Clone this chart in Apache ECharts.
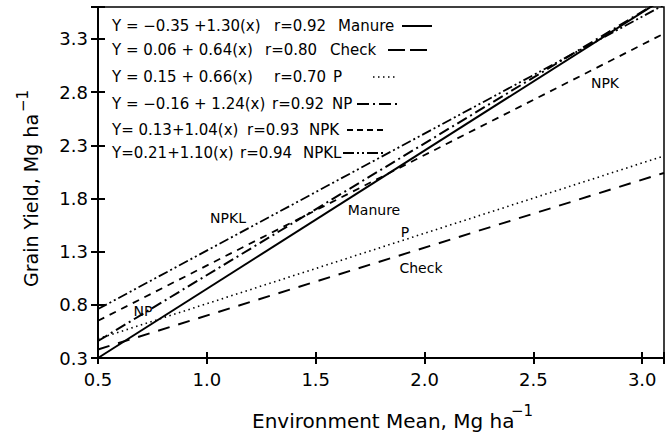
<!DOCTYPE html>
<html><head><meta charset="utf-8">
<script src="https://cdn.jsdelivr.net/npm/echarts@6/dist/echarts.min.js"></script>
<style>html,body{margin:0;padding:0;background:#fff}#c{width:672px;height:436px}</style>
</head><body><div id="c"></div>
<script>
// ---- data ----
const xTicks = [0.5, 1.0, 1.5, 2.0, 2.5, 3.0];
const yTicks = [0.3, 0.8, 1.3, 1.8, 2.3, 2.8, 3.3];
const xEnds = [0.5, 3.1];
const manureY = [0.30, 3.68];
const checkY  = [0.38, 2.04];
const pY      = [0.48, 2.20];
const npY     = [0.46, 3.68];
const npkY    = [0.65, 3.35];
const npklY   = [0.76, 3.62];
const names = ['Manure', 'Check', 'P', 'NP', 'NPK', 'NPKL'];
const equations = ['Y = \u22120.35 +1.30(x)', 'Y = 0.06 + 0.64(x)', 'Y = 0.15 + 0.66(x)',
                   'Y = \u22120.16 + 1.24(x)', 'Y= 0.13+1.04(x)', 'Y=0.21+1.10(x)'];
const rTexts = ['r=0.92', 'r=0.80', 'r=0.70', 'r=0.92', 'r=0.93', 'r=0.94'];

// ---- styling ----
const FONT = 'DejaVu Sans';
const seriesYs = [manureY, checkY, pY, npY, npkY, npklY];
const dashes = ['solid', [12, 9], [1.5, 3.5], [11, 4, 2, 4], [7, 6], [10, 3, 2, 3, 2, 3]];
const widths = [2, 2, 1.6, 2, 1.8, 1.8];

const legendRowY = [26, 50, 77, 104, 130, 153];
const legendRX = [274, 265, 274, 272, 247, 240];
const legendNameX = [338, 330, 333, 332, 309, 303];
const legendSample = [[402, 432], [388, 427], [373, 397], [357, 398], [347, 383], [343, 385]];
const legendDash = [null, [17, 5], [1.5, 3.5], [12, 4, 2, 4], [6, 4], [11, 3, 2, 3, 2, 3]];

const chart = echarts.init(document.getElementById('c'), null, {renderer: 'svg'});

const graphics = [];
names.forEach((n, i) => {
  const y = legendRowY[i];
  graphics.push({type: 'text', x: 112, y: y, style: {text: equations[i], fontSize: 15, fontFamily: FONT, fill: '#000', verticalAlign: 'middle', align: 'left'}});
  graphics.push({type: 'text', x: legendRX[i], y: y, style: {text: rTexts[i], fontSize: 15, fontFamily: FONT, fill: '#000', verticalAlign: 'middle', align: 'left'}});
  graphics.push({type: 'text', x: legendNameX[i], y: y, style: {text: n, fontSize: 15, fontFamily: FONT, fill: '#000', verticalAlign: 'middle', align: 'left'}});
  const st = {stroke: '#000', lineWidth: i === 2 ? 1.6 : 2};
  if (legendDash[i]) st.lineDash = legendDash[i];
  graphics.push({type: 'line', shape: {x1: legendSample[i][0], y1: y, x2: legendSample[i][1], y2: y}, style: st});
});

// in-plot line labels
const inLabels = [['NPKL', 228, 218], ['Manure', 374, 210], ['P', 405, 232], ['Check', 421, 268], ['NP', 143, 311], ['NPK', 605, 83]];
inLabels.forEach(l => {
  graphics.push({type: 'text', x: l[1], y: l[2], style: {text: l[0], fontSize: 14, fontFamily: FONT, fill: '#000', align: 'center', verticalAlign: 'middle'}});
});

// axis names
graphics.push({type: 'text', x: 252, y: 421, style: {text: 'Environment Mean, Mg ha', fontSize: 20, fontFamily: FONT, fill: '#000', align: 'left', verticalAlign: 'middle'}});
graphics.push({type: 'text', x: 511, y: 411, style: {text: '\u22121', fontSize: 15, fontFamily: FONT, fill: '#000', align: 'left', verticalAlign: 'middle'}});
graphics.push({type: 'group', x: 31, y: 186, rotation: Math.PI / 2, children: [
  {type: 'text', x: -101, y: 0, style: {text: 'Grain Yield, Mg ha', fontSize: 19, fontFamily: FONT, fill: '#000', align: 'left', verticalAlign: 'middle'}},
  {type: 'text', x: 74, y: -8, style: {text: '\u22121', fontSize: 15, fontFamily: FONT, fill: '#000', align: 'left', verticalAlign: 'middle'}}
]});

const fmt = v => v.toFixed(1);
const tickLine = {color: '#000', width: 2};

const series = names.map((n, i) => ({
  name: n, type: 'line', xAxisIndex: 0, yAxisIndex: 0,
  data: xEnds.map((x, k) => [x, seriesYs[i][k]]),
  showSymbol: false, symbol: 'none', silent: true, clip: true,
  lineStyle: {color: '#000', width: widths[i], type: dashes[i]}
}));

// helper axes that only carry tick marks (same pixel span as the data axes)
const xTickAxis = inside => ({type: 'value', min: 0.5, max: 3.1, interval: 0.5, position: 'bottom',
  axisLine: {show: false}, axisLabel: {show: false}, splitLine: {show: false},
  axisTick: {show: true, inside: inside, length: 6, lineStyle: tickLine}});
// y ticks sit at 0.3 + k*0.5: an axis spanning 0..3.3 (offset by the 0.3 minimum) puts them there
const yTickAxis = inside => ({type: 'value', min: 0, max: 3.3, interval: 0.5, position: 'left',
  axisLine: {show: false}, axisLabel: {show: false}, splitLine: {show: false},
  axisTick: {show: true, inside: inside, length: 7, lineStyle: tickLine}});

chart.setOption({
  animation: false,
  backgroundColor: '#fff',
  grid: {left: 98, right: 8, top: 7, bottom: 78, show: true, borderColor: '#000', borderWidth: 1.5},
  xAxis: [
    {type: 'value', min: 0.5, max: 3.1, position: 'bottom',
     axisLine: {show: true, lineStyle: {color: '#000', width: 2}},
     axisTick: {show: false},
     axisLabel: {customValues: xTicks, formatter: fmt, fontSize: 18, fontFamily: FONT, color: '#000', margin: 12},
     splitLine: {show: false}},
    xTickAxis(false), xTickAxis(true)
  ],
  yAxis: [
    {type: 'value', min: 0.3, max: 3.6, position: 'left',
     axisLine: {show: true, lineStyle: {color: '#000', width: 2}},
     axisTick: {show: false},
     axisLabel: {customValues: yTicks, formatter: fmt, fontSize: 18, fontFamily: FONT, color: '#000', margin: 10},
     splitLine: {show: false}},
    yTickAxis(false), yTickAxis(true)
  ],
  series: series,
  graphic: graphics
});
</script></body></html>
